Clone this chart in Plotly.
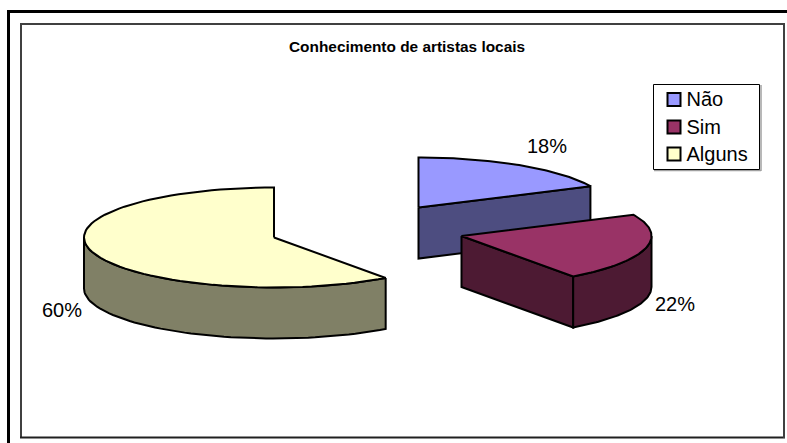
import numpy as np
import plotly.graph_objects as go

categories = ["Não", "Sim", "Alguns"]
shares = [18, 22, 60]
labels = ["18%", "22%", "60%"]
top_colors = ["#9999FF", "#993366", "#FFFFCC"]
side_colors = ["#4D4D80", "#4D1A33", "#808066"]

W, H = 787, 443
centers = [(418.5, 207.5), (461.5, 236), (274, 237.5)]
RX, RY, DEPTH = 190, 50, 51
label_pos = [(547, 148), (675, 306), (62, 312)]
legend_y = [99.5, 127, 154]
legend_text_y = [101, 128.5, 155.5]

fractions = np.array(shares) / sum(shares)
edges = np.concatenate([[0], np.cumsum(fractions)]) * 2 * np.pi


def pt(c, a, dz=0.0):
    a = np.asarray(a)
    return c[0] + RX * np.sin(a), c[1] - RY * np.cos(a) + dz


def poly(fig, xs, ys, fill):
    fig.add_trace(go.Scatter(
        x=list(xs), y=list(ys), mode="lines", fill="toself", fillcolor=fill,
        line=dict(color="black", width=2), hoverinfo="skip", showlegend=False))


def wedge_top(c, a0, a1):
    t = np.linspace(a0, a1, 80)
    x, y = pt(c, t)
    return np.r_[c[0], x, c[0]], np.r_[c[1], y, c[1]]


def outer_wall(c, a0, a1):
    t = np.linspace(a0, a1, 60)
    x, y = pt(c, t)
    xb, yb = pt(c, t[::-1], DEPTH)
    return np.r_[x, xb, x[0]], np.r_[y, yb, y[0]]


def radial_wall(c, a):
    x, y = pt(c, a)
    return ([c[0], x, x, c[0], c[0]],
            [c[1], y, y + DEPTH, c[1] + DEPTH, c[1]])


fig = go.Figure()

# Não
poly(fig, *radial_wall(centers[0], edges[1]), side_colors[0])
poly(fig, *wedge_top(centers[0], edges[0], edges[1]), top_colors[0])
# Sim
poly(fig, *radial_wall(centers[1], edges[2]), side_colors[1])
poly(fig, *outer_wall(centers[1], np.pi / 2, edges[2]), side_colors[1])
poly(fig, *wedge_top(centers[1], edges[1], edges[2]), top_colors[1])
# Alguns
poly(fig, *outer_wall(centers[2], edges[2], 1.5 * np.pi), side_colors[2])
poly(fig, *wedge_top(centers[2], edges[2], edges[3]), top_colors[2])

# data labels
fig.add_trace(go.Scatter(
    x=[p[0] for p in label_pos], y=[p[1] for p in label_pos], text=labels,
    mode="text", textposition="middle center",
    textfont=dict(family="Liberation Sans", size=20, color="black"),
    hoverinfo="skip", showlegend=False))

# legend
fig.add_trace(go.Scatter(
    x=[674] * 3, y=legend_y, mode="markers",
    marker=dict(symbol="square", size=13, color=top_colors,
                line=dict(color="black", width=2)),
    hoverinfo="skip", showlegend=False))
fig.add_trace(go.Scatter(
    x=[686.5] * 3, y=legend_text_y, text=categories, mode="text",
    textposition="middle right",
    textfont=dict(family="Liberation Sans", size=20, color="black"),
    hoverinfo="skip", showlegend=False))

line = lambda x0, y0, x1, y1, c, w: dict(
    type="line", xref="x", yref="y", x0=x0, y0=y0, x1=x1, y1=y1,
    line=dict(color=c, width=w), layer="below")

shapes = [
    line(8.5, 10, 8.5, 443, "black", 3),
    line(7, 11.5, 787, 11.5, "black", 3),
    line(20.5, 24, 784, 24, "#404040", 2),
    line(21, 23, 21, 438, "#404040", 2),
    line(20, 437.5, 785, 437.5, "#202020", 2),
    line(784, 23, 784, 438, "#404040", 2),
    line(654, 170.5, 761, 170.5, "#A0A0A0", 1.5),
    line(761, 85, 761, 171, "#A0A0A0", 1.5),
    dict(type="rect", xref="x", yref="y", x0=653.5, y0=84.5, x1=759.5, y1=169.5,
         line=dict(color="black", width=1), fillcolor="white", layer="below"),
]

fig.update_layout(
    width=W, height=H, margin=dict(l=0, r=0, t=0, b=0),
    paper_bgcolor="white", plot_bgcolor="white", showlegend=False,
    xaxis=dict(range=[0, W], visible=False, fixedrange=True),
    yaxis=dict(range=[H, 0], visible=False, fixedrange=True),
    shapes=shapes,
    annotations=[dict(
        text="<b>Conhecimento de artistas locais</b>", x=406.5, y=46,
        xref="x", yref="y", showarrow=False, xanchor="center", yanchor="middle",
        font=dict(family="Liberation Sans", size=15.4, color="black"))],
)
fig.write_html("out.html", config=dict(displayModeBar=False),
               post_script="document.body.style.margin='0';document.body.style.overflow='hidden';")
